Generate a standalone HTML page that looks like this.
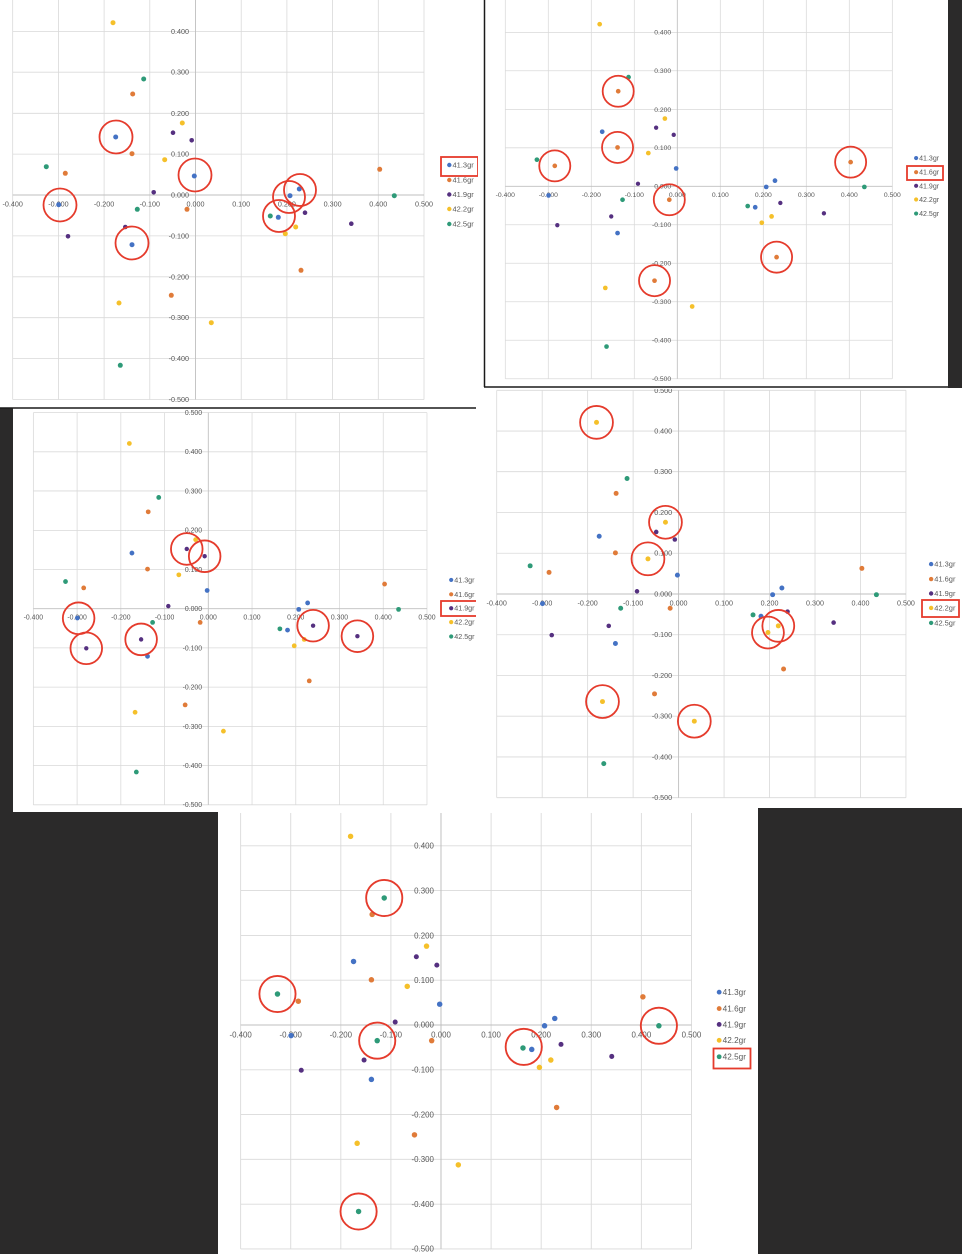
<!DOCTYPE html>
<html><head><meta charset="utf-8"><style>
html,body{margin:0;padding:0;background:#fff;}
svg{display:block;}
text{font-family:"Liberation Sans",sans-serif;fill:#595959;}
</style></head><body>
<svg width="962" height="1254" viewBox="0 0 962 1254" xmlns="http://www.w3.org/2000/svg">
<defs>
<g id="chart">
  <g stroke="#d9d9d9" stroke-width="0.8" fill="none">
    <line x1="12.7" y1="-9.5" x2="12.7" y2="399.5"/>
    <line x1="58.4" y1="-9.5" x2="58.4" y2="399.5"/>
    <line x1="104.1" y1="-9.5" x2="104.1" y2="399.5"/>
    <line x1="149.8" y1="-9.5" x2="149.8" y2="399.5"/>
    <line x1="241.2" y1="-9.5" x2="241.2" y2="399.5"/>
    <line x1="286.9" y1="-9.5" x2="286.9" y2="399.5"/>
    <line x1="332.6" y1="-9.5" x2="332.6" y2="399.5"/>
    <line x1="378.3" y1="-9.5" x2="378.3" y2="399.5"/>
    <line x1="424" y1="-9.5" x2="424" y2="399.5"/>
    <line x1="12.7" y1="-9.5" x2="424" y2="-9.5"/>
    <line x1="12.7" y1="31.4" x2="424" y2="31.4"/>
    <line x1="12.7" y1="72.2" x2="424" y2="72.2"/>
    <line x1="12.7" y1="113.3" x2="424" y2="113.3"/>
    <line x1="12.7" y1="154.1" x2="424" y2="154.1"/>
    <line x1="12.7" y1="235.9" x2="424" y2="235.9"/>
    <line x1="12.7" y1="276.8" x2="424" y2="276.8"/>
    <line x1="12.7" y1="317.7" x2="424" y2="317.7"/>
    <line x1="12.7" y1="358.6" x2="424" y2="358.6"/>
    <line x1="12.7" y1="399.5" x2="424" y2="399.5"/>
  </g>
  <g stroke="#bfbfbf" stroke-width="0.9">
    <line x1="195.5" y1="-9.5" x2="195.5" y2="399.5"/>
    <line x1="12.7" y1="195" x2="424" y2="195"/>
  </g>
  <g font-size="7.2" text-anchor="middle">
    <text x="12.7" y="206.5">-0.400</text>
    <text x="58.4" y="206.5">-0.300</text>
    <text x="104.1" y="206.5">-0.200</text>
    <text x="149.8" y="206.5">-0.100</text>
    <text x="195.5" y="206.5">0.000</text>
    <text x="241.2" y="206.5">0.100</text>
    <text x="286.9" y="206.5">0.200</text>
    <text x="332.6" y="206.5">0.300</text>
    <text x="378.3" y="206.5">0.400</text>
    <text x="424" y="206.5">0.500</text>
  </g>
  <g font-size="7.2" text-anchor="end">
    <text x="189" y="-7">0.500</text>
    <text x="189" y="33.9">0.400</text>
    <text x="189" y="74.7">0.300</text>
    <text x="189" y="115.8">0.200</text>
    <text x="189" y="156.6">0.100</text>
    <text x="189" y="197.5">0.000</text>
    <text x="189" y="238.4">-0.100</text>
    <text x="189" y="279.3">-0.200</text>
    <text x="189" y="320.2">-0.300</text>
    <text x="189" y="361.1">-0.400</text>
    <text x="189" y="402">-0.500</text>
  </g>
  <g fill="#4472c4">
    <circle cx="115.7" cy="137" r="2.5"/><circle cx="194.3" cy="176" r="2.5"/><circle cx="58.7" cy="204.7" r="2.5"/><circle cx="132" cy="244.7" r="2.5"/><circle cx="290" cy="195.7" r="2.5"/><circle cx="299.3" cy="189" r="2.5"/><circle cx="278.3" cy="217.3" r="2.5"/>
  </g>
  <g fill="#e07b39">
    <circle cx="132.7" cy="94" r="2.5"/><circle cx="132" cy="153.7" r="2.5"/><circle cx="65.3" cy="173.3" r="2.5"/><circle cx="187" cy="209.3" r="2.5"/><circle cx="379.7" cy="169.3" r="2.5"/><circle cx="301" cy="270.3" r="2.5"/><circle cx="171.3" cy="295.3" r="2.5"/>
  </g>
  <g fill="#553080">
    <circle cx="173" cy="132.7" r="2.3"/><circle cx="191.7" cy="140.3" r="2.3"/><circle cx="153.7" cy="192.3" r="2.3"/><circle cx="125.3" cy="227" r="2.3"/><circle cx="68" cy="236.3" r="2.3"/><circle cx="305" cy="212.7" r="2.3"/><circle cx="351.3" cy="223.7" r="2.3"/>
  </g>
  <g fill="#f5c02a">
    <circle cx="113" cy="22.7" r="2.5"/><circle cx="182.3" cy="123" r="2.5"/><circle cx="164.7" cy="159.7" r="2.5"/><circle cx="285.3" cy="233.7" r="2.5"/><circle cx="295.7" cy="227" r="2.5"/><circle cx="119" cy="303" r="2.5"/><circle cx="211.3" cy="322.7" r="2.5"/>
  </g>
  <g fill="#2e9a78">
    <circle cx="143.7" cy="79" r="2.5"/><circle cx="46.3" cy="166.7" r="2.5"/><circle cx="137.3" cy="209.3" r="2.5"/><circle cx="270.3" cy="216" r="2.5"/><circle cx="394.3" cy="195.7" r="2.5"/><circle cx="120.3" cy="365.3" r="2.5"/>
  </g>
  <g font-size="7.5">
    <circle cx="449.3" cy="165" r="2.2" fill="#4472c4"/><text x="452.5" y="167.6">41.3gr</text>
    <circle cx="449.3" cy="180" r="2.2" fill="#e07b39"/><text x="452.5" y="182.6">41.6gr</text>
    <circle cx="449.3" cy="194.5" r="2.2" fill="#553080"/><text x="452.5" y="197.1">41.9gr</text>
    <circle cx="449.3" cy="209" r="2.2" fill="#f5c02a"/><text x="452.5" y="211.6">42.2gr</text>
    <circle cx="449.3" cy="224" r="2.2" fill="#2e9a78"/><text x="452.5" y="226.6">42.5gr</text>
  </g>
</g>
<clipPath id="c1"><rect x="0" y="0" width="478" height="406"/></clipPath>
<clipPath id="c2"><rect x="485" y="0" width="463" height="386"/></clipPath>
<clipPath id="c3"><rect x="13" y="409" width="463" height="403"/></clipPath>
<clipPath id="c4"><rect x="478" y="389" width="484" height="419"/></clipPath>
<clipPath id="c5"><rect x="218" y="813" width="540" height="441"/></clipPath>
</defs>

<!-- dark backgrounds -->
<rect x="948" y="0" width="14" height="388" fill="#2b2a2a"/>
<rect x="0" y="408" width="13" height="406" fill="#2b2a2a"/>
<rect x="0" y="812" width="218" height="442" fill="#2b2a2a"/>
<rect x="758" y="808" width="204" height="446" fill="#2b2a2a"/>

<!-- Panel 1 -->
<g clip-path="url(#c1)">
  <g>
    <use href="#chart"/>
    <g fill="none" stroke="#e53b2c" stroke-width="1.8">
      <circle cx="116" cy="137" r="16.5"/><circle cx="195" cy="175" r="16.5"/><circle cx="60" cy="205" r="16.5"/><circle cx="132" cy="243" r="16.5"/><circle cx="289" cy="197" r="16"/><circle cx="300" cy="190" r="16"/><circle cx="279" cy="216" r="16"/>
    </g>
    <rect x="441" y="157" width="37" height="19" fill="none" stroke="#e53b2c" stroke-width="1.8"/>
  </g>
</g>
<line x1="0" y1="408" x2="476" y2="408" stroke="#1a1a1a" stroke-width="1.5"/>

<!-- Panel 2 -->
<g clip-path="url(#c2)">
  <rect x="485" y="0" width="463" height="386" fill="#fff"/>
  <g transform="translate(677.3,186.3) scale(0.941,0.941) translate(-195.5,-195)">
    <use href="#chart"/>
    <g fill="none" stroke="#e53b2c" stroke-width="1.9">
      <circle cx="132.7" cy="94" r="16.5"/><circle cx="132" cy="153.7" r="16.5"/><circle cx="65.3" cy="173.3" r="16.5"/><circle cx="187" cy="209.3" r="16.5"/><circle cx="379.7" cy="169.3" r="16.5"/><circle cx="301" cy="270.3" r="16.5"/><circle cx="171.3" cy="295.3" r="16.5"/>
    </g>
  </g>
  <rect x="907" y="166" width="36" height="14" fill="none" stroke="#e53b2c" stroke-width="1.8"/>
</g>
<line x1="484.5" y1="0" x2="484.5" y2="387" stroke="#1a1a1a" stroke-width="1.5"/>
<line x1="484" y1="387" x2="948" y2="387" stroke="#1a1a1a" stroke-width="1.5"/>

<!-- Panel 3 -->
<g clip-path="url(#c3)">
  <rect x="13" y="409" width="463" height="403" fill="#fff"/>
  <g transform="translate(208.3,608.7) scale(0.957,0.959) translate(-195.5,-195)">
    <use href="#chart"/>
    <g fill="none" stroke="#e53b2c" stroke-width="1.9">
      <circle cx="173" cy="132.7" r="16.5"/><circle cx="191.7" cy="140.3" r="16.5"/><circle cx="60" cy="205" r="16.5"/><circle cx="125.3" cy="227" r="16.5"/><circle cx="68" cy="236.3" r="16.5"/><circle cx="305" cy="212.7" r="16.5"/><circle cx="351.3" cy="223.7" r="16.5"/>
    </g>
  </g>
  <rect x="441" y="601" width="36" height="15" fill="none" stroke="#e53b2c" stroke-width="1.8"/>
</g>

<!-- Panel 4 -->
<g clip-path="url(#c4)">
  <rect x="478" y="389" width="484" height="419" fill="#fff"/>
  <g transform="translate(678.6,594) scale(0.995,0.996) translate(-195.5,-195)">
    <use href="#chart"/>
    <g fill="none" stroke="#e53b2c" stroke-width="1.8">
      <circle cx="113" cy="22.7" r="16.5"/><circle cx="182.3" cy="123" r="16.5"/><circle cx="164.7" cy="159.7" r="16.5"/><circle cx="285.3" cy="233.7" r="16"/><circle cx="295.7" cy="227" r="16"/><circle cx="119" cy="303" r="16.5"/><circle cx="211.3" cy="322.7" r="16.5"/>
    </g>
  </g>
  <rect x="922" y="600" width="37" height="17" fill="none" stroke="#e53b2c" stroke-width="1.8"/>
</g>

<!-- Panel 5 -->
<g clip-path="url(#c5)">
  <rect x="218" y="813" width="540" height="441" fill="#fff"/>
  <g transform="translate(441,1025) scale(1.096,1.095) translate(-195.5,-195)">
    <use href="#chart"/>
    <g fill="none" stroke="#e53b2c" stroke-width="1.7">
      <circle cx="143.7" cy="79" r="16.5"/><circle cx="46.3" cy="166.7" r="16.5"/><circle cx="137.3" cy="209.3" r="16.5"/><circle cx="271" cy="215" r="16.5"/><circle cx="394.3" cy="195.7" r="16.5"/><circle cx="120.3" cy="365.3" r="16.5"/>
    </g>
  </g>
  <rect x="713.5" y="1048.5" width="37" height="20" fill="none" stroke="#e53b2c" stroke-width="1.8"/>
</g>
</svg>
</body></html>
